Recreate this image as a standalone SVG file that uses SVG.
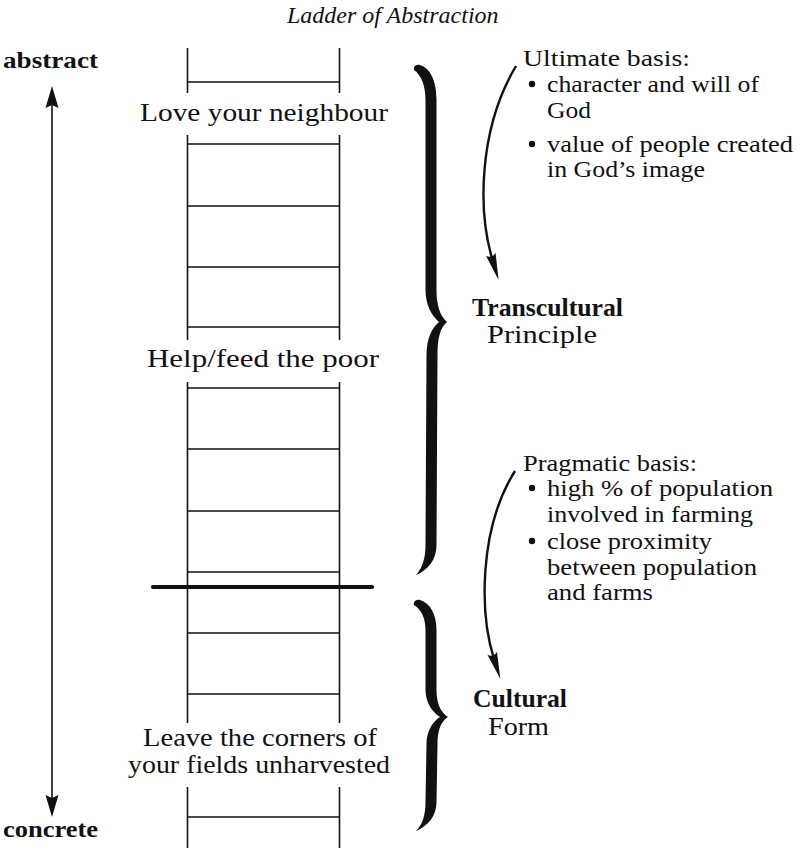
<svg xmlns="http://www.w3.org/2000/svg" width="796" height="848" viewBox="0 0 796 848" font-family="'Liberation Serif', Tinos, 'Times New Roman', Times, serif">
<defs>
<style>
.bg{fill:#ffffff}
.rail{stroke:#111;stroke-width:1.6;fill:none}
.rung{stroke:#111;stroke-width:1.6;fill:none}
.thick{stroke:#111;stroke-width:4.2;stroke-linecap:round;fill:none}
.brace{fill:#111;stroke:none}
.dot{fill:#111;stroke:none}
.conn{stroke:#111;stroke-width:2.4;fill:none}
.axis{stroke:#111;stroke-width:1.6;fill:none}
text{font-family:'Liberation Serif',Tinos,'Times New Roman',Times,serif;fill:#111}
.title{font-size:24px;font-style:italic}
.lab{font-size:26px;text-anchor:middle}
.note{font-size:24px}
.head{font-size:25px}
.bold{font-size:25px;font-weight:bold}
.pole{font-size:24px;font-weight:bold}
</style>
<marker id="dart" markerUnits="userSpaceOnUse" markerWidth="40" markerHeight="20" viewBox="-10 -10 40 20" refX="0" refY="0" orient="auto">
<path d="M21,0 L-6,-5 C-3,-2 -3,2 -6,5 Z" fill="#111"/>
</marker>
<marker id="head" markerUnits="userSpaceOnUse" markerWidth="40" markerHeight="20" viewBox="-10 -10 40 20" refX="0" refY="0" orient="auto-start-reverse">
<path d="M18,0 L-4,-6.5 L-1,0 L-4,6.5 Z" fill="#111"/>
</marker>
</defs>
<rect class="bg" x="0" y="0" width="796" height="848"/>

<g id="title">
<text class="title" x="287" y="23">Ladder of Abstraction</text>
</g>

<g id="ladder">
<g id="rails">
<line class="rail" x1="187.5" y1="48" x2="187.5" y2="93"/>
<line class="rail" x1="339.5" y1="48" x2="339.5" y2="93"/>
<line class="rail" x1="187.5" y1="135" x2="187.5" y2="340"/>
<line class="rail" x1="339.5" y1="135" x2="339.5" y2="340"/>
<line class="rail" x1="187.5" y1="382" x2="187.5" y2="723"/>
<line class="rail" x1="339.5" y1="382" x2="339.5" y2="723"/>
<line class="rail" x1="187.5" y1="787" x2="187.5" y2="848"/>
<line class="rail" x1="339.5" y1="787" x2="339.5" y2="848"/>
</g>
<g id="rungs">
<line class="rung" x1="187.5" y1="82" x2="339.5" y2="82"/>
<line class="rung" x1="187.5" y1="144" x2="339.5" y2="144"/>
<line class="rung" x1="187.5" y1="206" x2="339.5" y2="206"/>
<line class="rung" x1="187.5" y1="267" x2="339.5" y2="267"/>
<line class="rung" x1="187.5" y1="327" x2="339.5" y2="327"/>
<line class="rung" x1="187.5" y1="388" x2="339.5" y2="388"/>
<line class="rung" x1="187.5" y1="449" x2="339.5" y2="449"/>
<line class="rung" x1="187.5" y1="511" x2="339.5" y2="511"/>
<line class="rung" x1="187.5" y1="572" x2="339.5" y2="572"/>
<line class="rung" x1="187.5" y1="633" x2="339.5" y2="633"/>
<line class="rung" x1="187.5" y1="694" x2="339.5" y2="694"/>
<line class="rung" x1="187.5" y1="817" x2="339.5" y2="817"/>
</g>
<line id="divider" class="thick" x1="153" y1="587" x2="372" y2="587"/>
</g>

<g id="node-love">
<text class="lab" x="264" y="121" textLength="248" lengthAdjust="spacingAndGlyphs">Love your neighbour</text>
</g>
<g id="node-help">
<text class="lab" x="263" y="367" textLength="232" lengthAdjust="spacingAndGlyphs">Help/feed the poor</text>
</g>
<g id="node-leave">
<text class="lab"><tspan x="260" y="746" textLength="234" lengthAdjust="spacingAndGlyphs">Leave the corners of</tspan><tspan x="259" y="773" textLength="262" lengthAdjust="spacingAndGlyphs">your fields unharvested</tspan></text>
</g>

<g id="node-abstract">
<text class="pole" x="3" y="68" textLength="95" lengthAdjust="spacingAndGlyphs">abstract</text>
</g>
<g id="node-concrete">
<text class="pole" x="3" y="837" textLength="95" lengthAdjust="spacingAndGlyphs">concrete</text>
</g>

<g id="brace-transcultural">
<path class="brace" d="M414,70 C413,66 417,64 420,65 C430,68 436.5,80 436.5,100 L436.5,290 C436.5,305 440,316 447,322 C440,328 437.5,338 437.5,355 L436.5,545 C436.5,560 428,570 416,575 C423,567 425.5,557 425.5,545 L426.5,355 C426.5,338 432,328 439,322 C432,316 425.5,305 425.5,290 L425.5,100 C425.5,85 421,75 414,70 Z"/>
</g>
<g id="brace-cultural">
<path class="brace" d="M414,605 C413,601 417,599 420,600 C430,603 436.5,614 436.5,630 L436.5,690 C436.5,702 440,712 448,717 C440,722 437.5,732 437.5,744 L436.5,802 C436.5,816 428,826 416,831 C423,824 425.5,814 425.5,802 L426.5,744 C426.5,732 432,722 440,717 C432,712 425.5,702 425.5,690 L425.5,630 C425.5,618 421,609 414,605 Z"/>
</g>

<g id="node-transcultural">
<text class="head"><tspan class="bold" x="472" y="316" textLength="151" lengthAdjust="spacingAndGlyphs">Transcultural</tspan><tspan x="487" y="343" textLength="110" lengthAdjust="spacingAndGlyphs">Principle</tspan></text>
</g>
<g id="node-cultural">
<text class="head"><tspan class="bold" x="473" y="707" textLength="94" lengthAdjust="spacingAndGlyphs">Cultural</tspan><tspan x="488" y="735" textLength="61" lengthAdjust="spacingAndGlyphs">Form</tspan></text>
</g>

<g id="node-ultimate">
<circle class="dot" cx="532" cy="84" r="3.2"/>
<circle class="dot" cx="532" cy="144" r="3.2"/>
<text class="note"><tspan x="523" y="66" textLength="167" lengthAdjust="spacingAndGlyphs">Ultimate basis:</tspan><tspan x="547" y="92" textLength="212" lengthAdjust="spacingAndGlyphs">character and will of</tspan><tspan x="547" y="118" textLength="44" lengthAdjust="spacingAndGlyphs">God</tspan><tspan x="547" y="152" textLength="246" lengthAdjust="spacingAndGlyphs">value of people created</tspan><tspan x="547" y="177" textLength="158" lengthAdjust="spacingAndGlyphs">in God’s image</tspan></text>
</g>

<g id="node-pragmatic">
<circle class="dot" cx="532" cy="488" r="3.2"/>
<circle class="dot" cx="532" cy="541" r="3.2"/>
<text class="note"><tspan x="523" y="471" textLength="174" lengthAdjust="spacingAndGlyphs">Pragmatic basis:</tspan><tspan x="547" y="496" textLength="226" lengthAdjust="spacingAndGlyphs">high % of population</tspan><tspan x="547" y="522" textLength="206" lengthAdjust="spacingAndGlyphs">involved in farming</tspan><tspan x="547" y="549" textLength="165" lengthAdjust="spacingAndGlyphs">close proximity</tspan><tspan x="547" y="575" textLength="210" lengthAdjust="spacingAndGlyphs">between population</tspan><tspan x="547" y="600" textLength="106" lengthAdjust="spacingAndGlyphs">and farms</tspan></text>
</g>

<g id="connectors">
<line id="axis-arrow" class="axis" x1="52" y1="104" x2="52" y2="799" marker-start="url(#head)" marker-end="url(#head)"/>
<path id="ultimate-to-principle" class="conn" d="M516,66 C478,130 478,212 492.5,260" marker-end="url(#dart)"/>
<path id="pragmatic-to-form" class="conn" d="M515,471 C478,530 480,615 494,659" marker-end="url(#dart)"/>
</g>
</svg>
